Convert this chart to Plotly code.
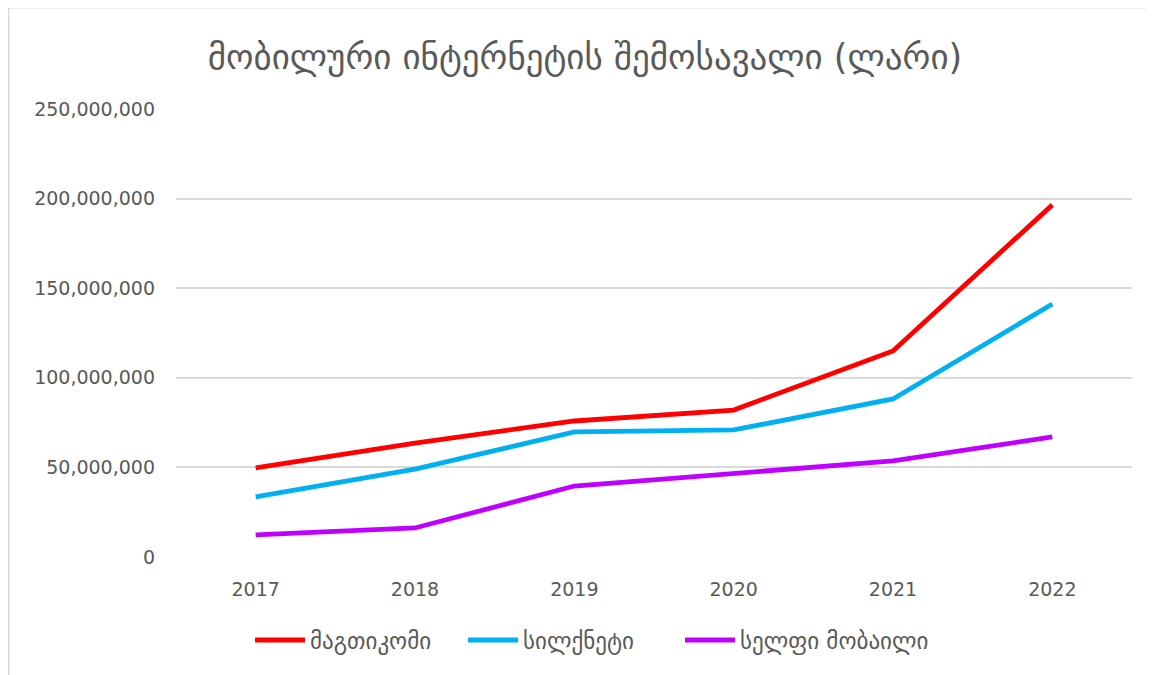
import plotly.graph_objects as go

years = ["2017", "2018", "2019", "2020", "2021", "2022"]
magticom = [49.7e6, 63.6e6, 75.9e6, 82.0e6, 115.0e6, 196.5e6]
silknet = [33.5e6, 49.0e6, 69.8e6, 70.9e6, 88.2e6, 141.2e6]
cellfie = [12.3e6, 16.2e6, 39.6e6, 46.3e6, 53.6e6, 67.0e6]
names = ["მაგთიკომი", "სილქნეტი", "სელფი მობაილი"]
colors = ["#FF0000", "#00B0F0", "#C000FF"]
title_text = "მობილური ინტერნეტის შემოსავალი (ლარი)"

W, H = 1154, 675
OFF = 8  # page body margin
L, R, T, B = 176 - OFF, W - (1132 - OFF), 109 - OFF, H - (557 - OFF)

fig = go.Figure()
legends = ["legend", "legend", "legend2"]
for nm, vals, c, lg in zip(names, [magticom, silknet, cellfie], colors, legends):
    fig.add_trace(go.Scatter(x=years, y=vals, name=nm, mode="lines", legend=lg,
                             line=dict(color=c, width=4.8)))

pw = W - L - R
ph = H - T - B
def px(x): return (x - OFF - L) / pw
def py(y): return (H - B - (y - OFF)) / ph

leg_common = dict(orientation="h", y=py(640), yanchor="middle", xanchor="left",
                  font=dict(size=23, color="#595959", family="DejaVu Sans, sans-serif"),
                  itemwidth=50, tracegroupgap=0, itemsizing="constant",
                  bgcolor="rgba(0,0,0,0)")

fig.update_layout(
    width=W, height=H,
    margin=dict(l=L, r=R, t=T, b=B),
    paper_bgcolor="white", plot_bgcolor="white",
    font=dict(family="DejaVu Sans, sans-serif", color="#595959"),
    title=dict(text=title_text, x=(585 - OFF) / W, xref="container", xanchor="center",
               y=1 - (57 - OFF) / H, yref="container", yanchor="middle",
               font=dict(size=35, color="#595959", family="DejaVu Sans, sans-serif")),
    xaxis=dict(type="category", range=[-0.5, 5.5], showgrid=False, zeroline=False,
               showline=False, ticks="", tickfont=dict(size=19, color="#595959"),
               ticklabelstandoff=19),
    yaxis=dict(range=[0, 250e6], dtick=50e6, tickformat=",d", showgrid=True,
               gridcolor="#D9D9D9", gridwidth=1.5, zeroline=False, showline=False,
               tickfont=dict(size=19, color="#595959"), ticklabelstandoff=20),
    legend=dict(x=px(250), entrywidth=148, entrywidthmode="pixels", **leg_common),
    legend2=dict(x=px(680), **leg_common),
    showlegend=True,
    shapes=[
        dict(type="line", xref="paper", yref="paper", x0=px(8), x1=px(W + 20), y0=py(7.5), y1=py(7.5),
             line=dict(color="#D9D9D9", width=2)),
        dict(type="line", xref="paper", yref="paper", x0=px(8.5), x1=px(8.5), y0=py(7), y1=py(H + 20),
             line=dict(color="#D9D9D9", width=2)),
    ],
)

fig.write_html("out.html")
